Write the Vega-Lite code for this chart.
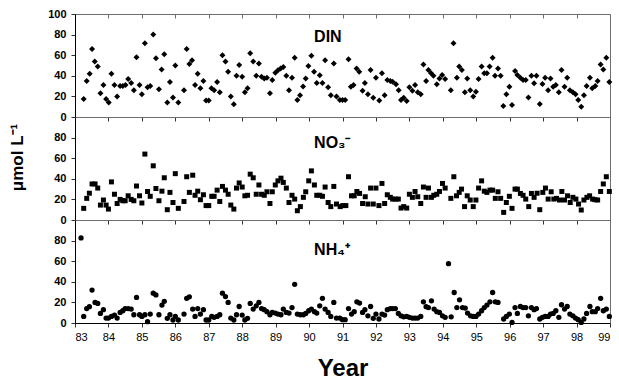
{
  "$schema": "https://vega.github.io/schema/vega-lite/v6.json",
  "background": "white",
  "padding": {"left": 7, "top": 7, "right": 7, "bottom": 2},
  "spacing": 0,
  "bounds": "flush",
  "config": {
    "view": {"stroke": "#6e6e6e", "strokeWidth": 1},
    "font": "Liberation Sans",
    "axis": {"domainColor": "black", "tickColor": "#333333", "labelColor": "black", "titleColor": "black", "grid": false, "labelFont": "Liberation Sans", "titleFont": "Liberation Sans"},
    "concat": {"spacing": 0}
  },
  "datasets": {
    "din": [
      {"t":83.26,"v":17.5},{"t":83.35,"v":35},{"t":83.44,"v":42},{"t":83.51,"v":66},{"t":83.59,"v":54},{"t":83.68,"v":49},{"t":83.76,"v":23},{"t":83.85,"v":31},{"t":83.93,"v":17.5},{"t":84.01,"v":14},
      {"t":84.09,"v":42},{"t":84.18,"v":31},{"t":84.26,"v":20},{"t":84.35,"v":30},{"t":84.43,"v":30},{"t":84.51,"v":31},{"t":84.59,"v":37},{"t":84.68,"v":33},{"t":84.76,"v":26},{"t":84.84,"v":58},
      {"t":84.93,"v":31},{"t":85.0,"v":22},{"t":85.09,"v":71.5},{"t":85.17,"v":29},{"t":85.25,"v":30},{"t":85.34,"v":80},{"t":85.42,"v":57},{"t":85.51,"v":27},{"t":85.59,"v":46},{"t":85.67,"v":61},
      {"t":85.76,"v":14},{"t":85.84,"v":34},{"t":85.93,"v":19},{"t":86.0,"v":50},{"t":86.09,"v":14},{"t":86.26,"v":26},{"t":86.34,"v":66},{"t":86.42,"v":51.5},{"t":86.5,"v":55},{"t":86.59,"v":31},
      {"t":86.67,"v":42},{"t":86.75,"v":28},{"t":86.84,"v":35},{"t":86.92,"v":16},{"t":87.0,"v":16},{"t":87.08,"v":28},{"t":87.16,"v":26},{"t":87.25,"v":34},{"t":87.33,"v":24},{"t":87.41,"v":60},
      {"t":87.5,"v":54},{"t":87.58,"v":44},{"t":87.66,"v":20},{"t":87.75,"v":12.5},{"t":87.83,"v":40},{"t":87.91,"v":50.5},{"t":88.0,"v":39},{"t":88.08,"v":24},{"t":88.16,"v":28},{"t":88.24,"v":62},
      {"t":88.33,"v":54},{"t":88.42,"v":40},{"t":88.5,"v":52},{"t":88.58,"v":39},{"t":88.66,"v":37.5},{"t":88.74,"v":38},{"t":88.83,"v":23},{"t":88.9,"v":36},{"t":88.99,"v":43},{"t":89.07,"v":45.5},
      {"t":89.15,"v":47},{"t":89.23,"v":48.5},{"t":89.32,"v":40},{"t":89.4,"v":26},{"t":89.49,"v":38},{"t":89.57,"v":57.5},{"t":89.65,"v":16.5},{"t":89.73,"v":21},{"t":89.82,"v":29.5},{"t":89.9,"v":37.5},
      {"t":89.98,"v":49.5},{"t":90.07,"v":59.5},{"t":90.15,"v":44},{"t":90.23,"v":33},{"t":90.32,"v":40.5},{"t":90.4,"v":33},{"t":90.48,"v":55},{"t":90.57,"v":29},{"t":90.65,"v":21},{"t":90.74,"v":52},
      {"t":90.82,"v":20},{"t":90.92,"v":16.5},{"t":91.0,"v":16.5},{"t":91.08,"v":16.5},{"t":91.18,"v":56},{"t":91.25,"v":29.4},{"t":91.33,"v":31},{"t":91.42,"v":47},{"t":91.5,"v":44},{"t":91.6,"v":25.6},
      {"t":91.67,"v":33},{"t":91.76,"v":22},{"t":91.84,"v":45.6},{"t":91.92,"v":18.8},{"t":92.0,"v":38},{"t":92.1,"v":16},{"t":92.18,"v":42.4},{"t":92.26,"v":21},{"t":92.34,"v":36},{"t":92.43,"v":35},
      {"t":92.5,"v":34.3},{"t":92.6,"v":31.7},{"t":92.68,"v":26},{"t":92.75,"v":16.5},{"t":92.83,"v":18.8},{"t":92.92,"v":15.5},{"t":93.0,"v":29},{"t":93.09,"v":25.6},{"t":93.17,"v":31},{"t":93.25,"v":24},
      {"t":93.34,"v":22},{"t":93.42,"v":51},{"t":93.5,"v":35},{"t":93.57,"v":45.6},{"t":93.65,"v":42.4},{"t":93.72,"v":40},{"t":93.82,"v":31.7},{"t":93.9,"v":37.5},{"t":93.98,"v":40.8},{"t":94.07,"v":37},
      {"t":94.24,"v":26},{"t":94.32,"v":71.5},{"t":94.42,"v":38},{"t":94.49,"v":49},{"t":94.57,"v":45.6},{"t":94.66,"v":24},{"t":94.73,"v":37.5},{"t":94.82,"v":26},{"t":94.91,"v":20},{"t":94.99,"v":24.6},
      {"t":95.07,"v":37},{"t":95.16,"v":49},{"t":95.24,"v":42.4},{"t":95.32,"v":42.4},{"t":95.4,"v":49},{"t":95.49,"v":57.6},{"t":95.56,"v":40},{"t":95.65,"v":47},{"t":95.73,"v":40},{"t":95.81,"v":10.7},
      {"t":95.9,"v":22},{"t":95.99,"v":29.4},{"t":96.07,"v":11.6},{"t":96.16,"v":44.7},{"t":96.23,"v":40.8},{"t":96.32,"v":38},{"t":96.4,"v":36},{"t":96.48,"v":36},{"t":96.56,"v":19},{"t":96.65,"v":40},
      {"t":96.73,"v":32.7},{"t":96.8,"v":40},{"t":96.9,"v":12.6},{"t":96.98,"v":32},{"t":97.06,"v":38},{"t":97.15,"v":26},{"t":97.22,"v":37.5},{"t":97.3,"v":29.4},{"t":97.38,"v":31},{"t":97.47,"v":24},
      {"t":97.55,"v":45.6},{"t":97.64,"v":29.4},{"t":97.72,"v":38},{"t":97.8,"v":26},{"t":97.89,"v":24},{"t":97.97,"v":22},{"t":98.05,"v":16.5},{"t":98.14,"v":10},{"t":98.22,"v":21},{"t":98.3,"v":30},
      {"t":98.4,"v":38},{"t":98.47,"v":28},{"t":98.56,"v":30},{"t":98.63,"v":35},{"t":98.72,"v":51},{"t":98.8,"v":46},{"t":98.89,"v":57.6},{"t":98.98,"v":34}
    ],
    "no3": [
      {"t":83.26,"v":11.3},{"t":83.35,"v":21},{"t":83.43,"v":26},{"t":83.51,"v":35},{"t":83.6,"v":35},{"t":83.68,"v":31},{"t":83.76,"v":14.5},{"t":83.85,"v":19.4},{"t":83.93,"v":14.5},{"t":84.0,"v":10.6},
      {"t":84.09,"v":37},{"t":84.18,"v":25},{"t":84.26,"v":16},{"t":84.35,"v":20},{"t":84.43,"v":18.7},{"t":84.5,"v":18.7},{"t":84.59,"v":23.5},{"t":84.68,"v":20},{"t":84.76,"v":18.7},{"t":84.84,"v":33},
      {"t":84.93,"v":23.5},{"t":85.0,"v":16.5},{"t":85.09,"v":64},{"t":85.17,"v":27.7},{"t":85.25,"v":23},{"t":85.34,"v":52.6},{"t":85.42,"v":30.6},{"t":85.51,"v":18.7},{"t":85.6,"v":28},{"t":85.67,"v":41},
      {"t":85.76,"v":10},{"t":85.84,"v":26.8},{"t":85.93,"v":17},{"t":86.0,"v":45},{"t":86.09,"v":11.3},{"t":86.26,"v":18},{"t":86.34,"v":42},{"t":86.42,"v":26.8},{"t":86.52,"v":43.5},{"t":86.59,"v":24},
      {"t":86.67,"v":28},{"t":86.75,"v":19.7},{"t":86.84,"v":24.5},{"t":86.92,"v":14},{"t":87.0,"v":14},{"t":87.09,"v":23},{"t":87.16,"v":23},{"t":87.25,"v":29},{"t":87.33,"v":18},{"t":87.41,"v":32.6},
      {"t":87.5,"v":29},{"t":87.58,"v":25},{"t":87.66,"v":14.5},{"t":87.75,"v":10.6},{"t":87.83,"v":31},{"t":87.91,"v":36},{"t":88.0,"v":32},{"t":88.08,"v":23.5},{"t":88.16,"v":24},{"t":88.24,"v":44.5},
      {"t":88.33,"v":41},{"t":88.42,"v":25},{"t":88.5,"v":34},{"t":88.58,"v":25},{"t":88.66,"v":24},{"t":88.74,"v":27.4},{"t":88.83,"v":16},{"t":88.9,"v":27.4},{"t":88.99,"v":34},{"t":89.07,"v":38},
      {"t":89.16,"v":40.6},{"t":89.23,"v":36.5},{"t":89.32,"v":31},{"t":89.4,"v":17},{"t":89.49,"v":24},{"t":89.57,"v":20.3},{"t":89.65,"v":9},{"t":89.74,"v":13},{"t":89.83,"v":22},{"t":89.9,"v":27.4},
      {"t":89.99,"v":38},{"t":90.07,"v":47.7},{"t":90.16,"v":34},{"t":90.23,"v":24},{"t":90.32,"v":24},{"t":90.4,"v":23},{"t":90.48,"v":32},{"t":90.57,"v":17},{"t":90.65,"v":13},{"t":90.74,"v":32.6},
      {"t":90.82,"v":15.5},{"t":90.93,"v":13},{"t":91.01,"v":14},{"t":91.1,"v":14},{"t":91.18,"v":42},{"t":91.27,"v":23.5},{"t":91.35,"v":23.5},{"t":91.43,"v":27.7},{"t":91.51,"v":25.8},{"t":91.6,"v":16},
      {"t":91.68,"v":22.6},{"t":91.76,"v":15.5},{"t":91.84,"v":31},{"t":91.92,"v":15.5},{"t":92.0,"v":31},{"t":92.09,"v":14},{"t":92.18,"v":35.5},{"t":92.26,"v":16},{"t":92.34,"v":24.5},{"t":92.43,"v":22},
      {"t":92.5,"v":20.3},{"t":92.58,"v":20.3},{"t":92.67,"v":20.3},{"t":92.75,"v":11.6},{"t":92.83,"v":13},{"t":92.92,"v":11.6},{"t":93.0,"v":25},{"t":93.09,"v":22},{"t":93.17,"v":27.7},{"t":93.25,"v":22.6},
      {"t":93.34,"v":16},{"t":93.42,"v":32},{"t":93.5,"v":22},{"t":93.57,"v":31},{"t":93.66,"v":22},{"t":93.73,"v":24},{"t":93.82,"v":25},{"t":93.9,"v":27.7},{"t":93.99,"v":35.5},{"t":94.07,"v":31},
      {"t":94.24,"v":21},{"t":94.33,"v":42},{"t":94.41,"v":23.5},{"t":94.49,"v":26.8},{"t":94.56,"v":30},{"t":94.65,"v":13},{"t":94.73,"v":23.5},{"t":94.82,"v":19.4},{"t":94.91,"v":13},{"t":94.99,"v":19.4},
      {"t":95.07,"v":31},{"t":95.16,"v":38},{"t":95.24,"v":28},{"t":95.32,"v":26.8},{"t":95.41,"v":29},{"t":95.49,"v":29},{"t":95.57,"v":21},{"t":95.65,"v":27.4},{"t":95.73,"v":21},{"t":95.82,"v":7.4},
      {"t":95.9,"v":17},{"t":95.99,"v":23},{"t":96.07,"v":11.3},{"t":96.16,"v":30},{"t":96.23,"v":30},{"t":96.32,"v":25.8},{"t":96.4,"v":24},{"t":96.48,"v":20.3},{"t":96.57,"v":13},{"t":96.65,"v":25.8},
      {"t":96.73,"v":22},{"t":96.82,"v":26},{"t":96.9,"v":10},{"t":96.99,"v":26.8},{"t":97.07,"v":31},{"t":97.15,"v":20.3},{"t":97.24,"v":27.4},{"t":97.32,"v":20.3},{"t":97.4,"v":21},{"t":97.49,"v":19.4},
      {"t":97.56,"v":27.7},{"t":97.64,"v":19.4},{"t":97.73,"v":23.5},{"t":97.81,"v":17},{"t":97.89,"v":22},{"t":97.98,"v":20.3},{"t":98.06,"v":15.5},{"t":98.14,"v":9.7},{"t":98.22,"v":19.4},{"t":98.31,"v":22},
      {"t":98.39,"v":23.5},{"t":98.48,"v":20.3},{"t":98.55,"v":19.7},{"t":98.63,"v":19.4},{"t":98.72,"v":27.7},{"t":98.8,"v":35},{"t":98.89,"v":42},{"t":98.98,"v":27.7}
    ],
    "nh4": [
      {"t":83.18,"v":82.6},{"t":83.26,"v":6.4},{"t":83.35,"v":14},{"t":83.43,"v":15.8},{"t":83.51,"v":32},{"t":83.6,"v":20},{"t":83.68,"v":19},{"t":83.76,"v":9.3},{"t":83.85,"v":12.9},{"t":83.93,"v":4.8},
      {"t":84.0,"v":4.8},{"t":84.09,"v":6.4},{"t":84.18,"v":7.7},{"t":84.26,"v":4.8},{"t":84.35,"v":10.3},{"t":84.43,"v":11.9},{"t":84.5,"v":14},{"t":84.59,"v":14},{"t":84.68,"v":13.5},{"t":84.76,"v":8},
      {"t":84.84,"v":24.8},{"t":84.93,"v":8},{"t":85.0,"v":6.4},{"t":85.09,"v":8},{"t":85.17,"v":1.3},{"t":85.25,"v":8.7},{"t":85.34,"v":29},{"t":85.42,"v":27.3},{"t":85.51,"v":8},{"t":85.6,"v":17.4},
      {"t":85.67,"v":21},{"t":85.76,"v":4.5},{"t":85.84,"v":8},{"t":85.93,"v":2.9},{"t":86.0,"v":6.4},{"t":86.09,"v":2.9},{"t":86.26,"v":8.7},{"t":86.34,"v":24},{"t":86.42,"v":25.4},{"t":86.52,"v":13.5},
      {"t":86.59,"v":6.4},{"t":86.67,"v":14},{"t":86.75,"v":8.7},{"t":86.84,"v":12.9},{"t":86.92,"v":2.9},{"t":87.0,"v":2.9},{"t":87.09,"v":6.4},{"t":87.16,"v":5.5},{"t":87.25,"v":6.4},{"t":87.33,"v":8},
      {"t":87.41,"v":29},{"t":87.5,"v":25.7},{"t":87.58,"v":20},{"t":87.66,"v":4.8},{"t":87.75,"v":2.9},{"t":87.83,"v":8},{"t":87.91,"v":16},{"t":88.0,"v":7.7},{"t":88.08,"v":2.9},{"t":88.16,"v":4.5},
      {"t":88.24,"v":19},{"t":88.33,"v":13.5},{"t":88.42,"v":16.7},{"t":88.5,"v":20},{"t":88.58,"v":14},{"t":88.66,"v":12.9},{"t":88.74,"v":11},{"t":88.83,"v":8},{"t":88.9,"v":10.3},{"t":88.99,"v":9.6},
      {"t":89.07,"v":8.7},{"t":89.16,"v":8},{"t":89.23,"v":13.5},{"t":89.32,"v":10.3},{"t":89.4,"v":9.6},{"t":89.49,"v":15},{"t":89.57,"v":37.6},{"t":89.65,"v":8.7},{"t":89.74,"v":8},{"t":89.83,"v":8},
      {"t":89.9,"v":9.3},{"t":89.99,"v":11.9},{"t":90.07,"v":13.5},{"t":90.16,"v":11},{"t":90.23,"v":9.6},{"t":90.32,"v":16.7},{"t":90.4,"v":24},{"t":90.48,"v":13.5},{"t":90.57,"v":10.3},{"t":90.65,"v":6.4},
      {"t":90.74,"v":20},{"t":90.82,"v":4.8},{"t":90.92,"v":4.8},{"t":91.0,"v":3.2},{"t":91.08,"v":3.2},{"t":91.18,"v":14},{"t":91.27,"v":8.7},{"t":91.35,"v":11},{"t":91.43,"v":20.6},{"t":91.51,"v":19.3},
      {"t":91.6,"v":10.3},{"t":91.67,"v":12.9},{"t":91.76,"v":7},{"t":91.84,"v":16},{"t":91.92,"v":4.5},{"t":92.0,"v":8.7},{"t":92.09,"v":3.9},{"t":92.18,"v":8.7},{"t":92.26,"v":7.7},{"t":92.34,"v":12.9},
      {"t":92.43,"v":14},{"t":92.5,"v":14},{"t":92.58,"v":14},{"t":92.67,"v":9.3},{"t":92.75,"v":7},{"t":92.83,"v":6},{"t":92.92,"v":6.4},{"t":93.0,"v":5.5},{"t":93.09,"v":4.8},{"t":93.17,"v":4.8},
      {"t":93.25,"v":4.8},{"t":93.34,"v":6.4},{"t":93.42,"v":20.6},{"t":93.5,"v":15.8},{"t":93.57,"v":15},{"t":93.66,"v":21.5},{"t":93.74,"v":13.5},{"t":93.82,"v":11},{"t":93.9,"v":10.3},{"t":93.99,"v":7},
      {"t":94.07,"v":5.5},{"t":94.17,"v":57.6},{"t":94.25,"v":6},{"t":94.34,"v":29.6},{"t":94.42,"v":15},{"t":94.5,"v":22.5},{"t":94.59,"v":15},{"t":94.67,"v":14.5},{"t":94.74,"v":9.6},{"t":94.83,"v":7},
      {"t":94.91,"v":6.4},{"t":94.99,"v":6.4},{"t":95.07,"v":8.7},{"t":95.16,"v":11.9},{"t":95.24,"v":15},{"t":95.32,"v":17.4},{"t":95.41,"v":20.6},{"t":95.49,"v":29.6},{"t":95.57,"v":20.6},{"t":95.65,"v":20},
      {"t":95.82,"v":3.9},{"t":95.9,"v":6.4},{"t":95.99,"v":8.7},{"t":96.07,"v":0.6},{"t":96.16,"v":15},{"t":96.23,"v":9.3},{"t":96.32,"v":16},{"t":96.4,"v":15},{"t":96.48,"v":15},{"t":96.56,"v":7},
      {"t":96.65,"v":15},{"t":96.73,"v":12.9},{"t":96.8,"v":14},{"t":96.9,"v":3.9},{"t":96.98,"v":5.5},{"t":97.06,"v":6.4},{"t":97.15,"v":6.4},{"t":97.22,"v":8.7},{"t":97.3,"v":9.3},{"t":97.38,"v":11.9},
      {"t":97.47,"v":5.5},{"t":97.55,"v":17.7},{"t":97.64,"v":13.5},{"t":97.72,"v":16},{"t":97.8,"v":8.7},{"t":97.89,"v":7},{"t":97.97,"v":4.8},{"t":98.05,"v":3.2},{"t":98.14,"v":0.6},{"t":98.22,"v":3.9},
      {"t":98.3,"v":9.3},{"t":98.4,"v":16},{"t":98.47,"v":11},{"t":98.56,"v":11},{"t":98.63,"v":14},{"t":98.72,"v":24},{"t":98.8,"v":11.9},{"t":98.89,"v":13.5},{"t":98.98,"v":6.4}
    ]
  },
  "vconcat": [
    {
      "width": 535, "height": 103,
      "layer": [
        {
          "data": {"name": "din"},
          "mark": {"type": "point", "shape": "diamond", "filled": true, "color": "black", "size": 36, "opacity": 1},
          "encoding": {
            "x": {"field": "t", "type": "quantitative", "scale": {"domain": [83, 99], "nice": false, "zero": false},
                  "axis": {"values": [83,84,85,86,87,88,89,90,91,92,93,94,95,96,97,98,99], "labels": false, "title": null, "tickSize": 4}},
            "y": {"field": "v", "type": "quantitative", "scale": {"domain": [0, 100], "nice": false},
                  "axis": {"values": [0,20,40,60,80,100], "title": "μmol L⁻¹", "titleOpacity": 0, "titleFontSize": 17, "titleFontWeight": "bold", "titleX": -49, "titleY": 40, "labelFontSize": 11, "labelFontWeight": "bold", "tickSize": 4, "labelPadding": 5}}
          }
        },
        {
          "data": {"name": "din"},
          "mark": {"type": "point", "opacity": 0},
          "encoding": {
            "x": {"field": "t", "type": "quantitative", "scale": {"domain": [83, 99], "nice": false, "zero": false},
                  "axis": {"orient": "top", "values": [83,84,85,86,87,88,89,90,91,92,93,94,95,96,97,98,99], "labels": false, "title": null, "tickSize": -4, "domain": false, "tickColor": "#6e6e6e"}}
          }
        },
        {
          "data": {"values": [{}]},
          "mark": {"type": "text", "align": "left", "baseline": "alphabetic", "fontSize": 16, "fontWeight": "bold", "color": "black", "font": "Liberation Sans"},
          "encoding": {"x": {"datum": 90.15, "type": "quantitative", "axis": null}, "y": {"datum": 73, "type": "quantitative", "axis": null}, "text": {"value": "DIN"}}
        }
      ],
      "resolve": {"axis": {"x": "independent", "y": "independent"}}
    },
    {
      "width": 535, "height": 103,
      "layer": [
        {
          "data": {"name": "no3"},
          "mark": {"type": "point", "shape": "square", "filled": true, "color": "black", "size": 25, "opacity": 1},
          "encoding": {
            "x": {"field": "t", "type": "quantitative", "scale": {"domain": [83, 99], "nice": false, "zero": false},
                  "axis": {"values": [83,84,85,86,87,88,89,90,91,92,93,94,95,96,97,98,99], "labels": false, "title": null, "tickSize": 4}},
            "y": {"field": "v", "type": "quantitative", "scale": {"domain": [0, 100], "nice": false},
                  "axis": {"values": [0,20,40,60,80], "title": "μmol L⁻¹", "titleFontSize": 17, "titleFontWeight": "bold", "titleX": -49, "titleY": 40, "labelFontSize": 11, "labelFontWeight": "bold", "tickSize": 4, "labelPadding": 5}}
          }
        },
        {
          "data": {"values": [{}]},
          "mark": {"type": "text", "align": "left", "baseline": "alphabetic", "fontSize": 16, "fontWeight": "bold", "color": "black", "font": "Liberation Sans"},
          "encoding": {"x": {"datum": 90.15, "type": "quantitative", "axis": null}, "y": {"datum": 70, "type": "quantitative", "axis": null}, "text": {"value": "NO₃⁻"}}
        }
      ],
      "resolve": {"axis": {"x": "independent", "y": "independent"}}
    },
    {
      "width": 535, "height": 103,
      "layer": [
        {
          "data": {"name": "nh4"},
          "mark": {"type": "point", "shape": "circle", "filled": true, "color": "black", "size": 28, "opacity": 1},
          "encoding": {
            "x": {"field": "t", "type": "quantitative", "scale": {"domain": [83, 99], "nice": false, "zero": false},
                  "axis": {"values": [83,84,85,86,87,88,89,90,91,92,93,94,95,96,97,98,99], "format": "d", "title": "Year", "titleFontSize": 24, "titleFontWeight": "bold", "titlePadding": 14, "labelFontSize": 11, "labelPadding": 4, "tickSize": 4, "labelOverlap": false}},
            "y": {"field": "v", "type": "quantitative", "scale": {"domain": [0, 100], "nice": false},
                  "axis": {"values": [0,20,40,60,80], "title": "μmol L⁻¹", "titleOpacity": 0, "titleFontSize": 17, "titleFontWeight": "bold", "titleX": -49, "titleY": 40, "labelFontSize": 11, "labelFontWeight": "bold", "tickSize": 4, "labelPadding": 5}}
          }
        },
        {
          "data": {"values": [{}]},
          "mark": {"type": "text", "align": "left", "baseline": "alphabetic", "fontSize": 16, "fontWeight": "bold", "color": "black", "font": "Liberation Sans"},
          "encoding": {"x": {"datum": 90.15, "type": "quantitative", "axis": null}, "y": {"datum": 66, "type": "quantitative", "axis": null}, "text": {"value": "NH₄⁺"}}
        }
      ],
      "resolve": {"axis": {"x": "independent", "y": "independent"}}
    }
  ]
}
